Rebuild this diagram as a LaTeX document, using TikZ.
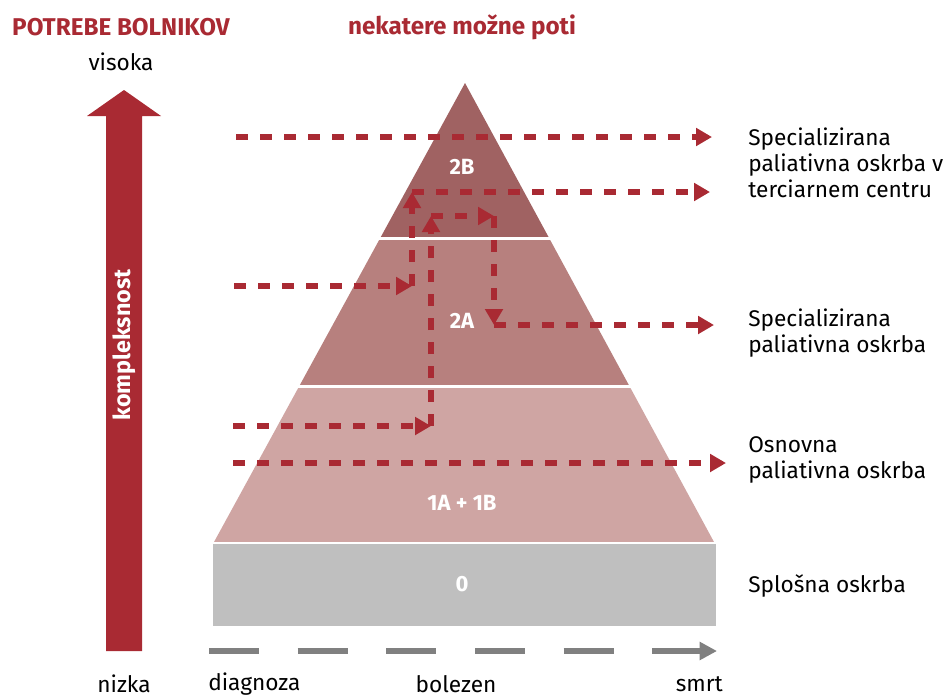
\documentclass[tikz,border=0pt]{standalone}
\usepackage{fontspec}
\setmainfont{Fira Sans}
\usetikzlibrary{arrows.meta}
\definecolor{bolred}{HTML}{A92A33}
\definecolor{lvltwob}{HTML}{A06262}
\definecolor{lvltwoa}{HTML}{B7807E}
\definecolor{lvlone}{HTML}{CFA5A3}
\definecolor{lvlzero}{HTML}{BFBFBF}
\definecolor{timegray}{HTML}{808080}
\tikzset{
  pot/.style={draw=bolred,line width=4.5pt,dash pattern=on 9pt off 9pt,-{Triangle[length=12pt,width=13pt]}},
  txt/.style={font=\fontsize{17}{19.5}\selectfont,text=black,inner sep=0pt},
  head/.style={font=\fontsize{18.2}{20}\selectfont\bfseries,text=bolred,inner sep=0pt},
  lvl/.style={font=\fontsize{16.5}{19}\selectfont\bfseries,text=white,inner sep=0pt}
}
\begin{document}
\begin{tikzpicture}[x=0.75pt,y=-0.75pt]
	\useasboundingbox (0,0) rectangle (944,699);
	\begin{scope}
		\clip (465,83)--(214,542)--(714,542)--cycle;
		\fill[lvltwob] (200,80) rectangle (730,237);
		\fill[lvltwoa] (200,240) rectangle (730,385);
		\fill[lvlone] (200,388) rectangle (730,542);
	\end{scope}
	\fill[lvlzero] (213,544) rectangle (716,626);
	\fill[bolred] (106,651)--(106,116)--(87,116)--(124,90)--(161,116)--(142,116)--(142,651)--cycle;
	\node[head] (potrebe) at (121,27) {POTREBE BOLNIKOV};
	\node[head] (poti) at (462,27) {nekatere možne poti};
	\node[txt] (visoka) at (121,62) {visoka};
	\node[txt] (nizka) at (124,684) {nizka};
	\node[lvl,font=\fontsize{17.5}{19}\selectfont\bfseries,rotate=90] (kompl) at (124,345) {kompleksnost};
	\node[lvl] (l2b) at (462,167) {2B};
	\node[lvl] (l2a) at (462,321) {2A};
	\node[lvl] (l1) at (462,503) {1A + 1B};
	\node[lvl] (l0) at (462,584) {0};
	\node[txt,anchor=west,align=left] (terc) at (748,163) {Specializirana\\paliativna oskrba v\\terciarnem centru};
	\node[txt,anchor=west,align=left] (spec) at (748,333) {Specializirana\\paliativna oskrba};
	\node[txt,anchor=west,align=left] (osn) at (748,460) {Osnovna\\paliativna oskrba};
	\node[txt,anchor=west] (splos) at (748,586) {Splošna oskrba};
	\node[txt,anchor=west] (diag) at (208,684) {diagnoza};
	\node[txt] (bol) at (456,684) {bolezen};
	\node[txt,anchor=east] (smrt) at (723,684) {smrt};
	\coordinate (t0) at (236,137);
	\coordinate (t1) at (712,137);
	\coordinate (a0) at (234,286);
	\coordinate (a1) at (412,286);
	\coordinate (a2) at (412,192);
	\coordinate (a3) at (710,192);
	\coordinate (b0) at (233,426);
	\coordinate (b1) at (431,426);
	\coordinate (b2) at (431,216);
	\coordinate (b3) at (494,216);
	\coordinate (b4) at (494,325);
	\coordinate (b5) at (714,325);
	\coordinate (c0) at (233,463);
	\coordinate (c1) at (726,463);
	\draw[pot] (t0)--(t1);
	\draw[pot] (a0)--(a1);
	\draw[pot] (a1)--(a2);
	\draw[pot] (a2)--(a3);
	\draw[pot] (b0)--(b1);
	\draw[pot] (b1)--(b2);
	\draw[pot] (b2)--(b3);
	\draw[pot] (b3)--(b4);
	\draw[pot] (b4)--(b5);
	\draw[pot] (c0)--(c1);
	\coordinate (g0) at (209,651);
	\coordinate (g1) at (717,651);
	\draw[timegray,line width=4.5pt,dash pattern=on 37.5pt off 29pt,-{Triangle[length=13pt,width=13pt]}] (g0)--(g1);
\end{tikzpicture}
\end{document}
